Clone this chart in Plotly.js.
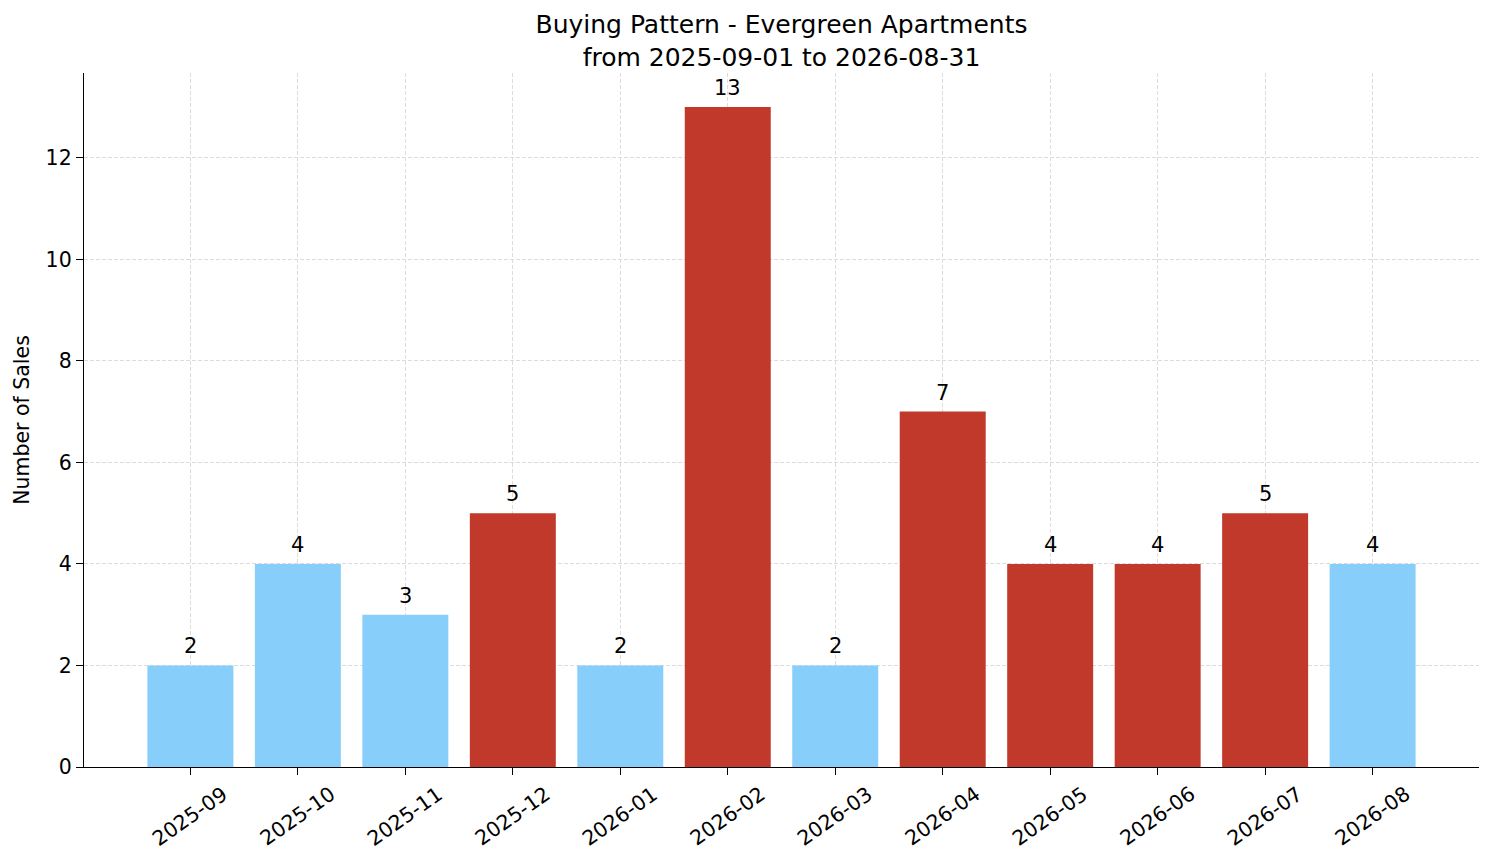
<!DOCTYPE html>
<html>
<head>
<meta charset="utf-8">
<script src="https://cdn.plot.ly/plotly-3.0.1.min.js"></script>
<style>
  html, body { margin: 0; padding: 0; background: #fff; }
  #plotarea { width: 1494px; height: 863px; }
</style>
</head>
<body>
<div id="plotarea"></div>
<script>
let months = ['2025-09', '2025-10', '2025-11', '2025-12', '2026-01', '2026-02',
              '2026-03', '2026-04', '2026-05', '2026-06', '2026-07', '2026-08'];
let sales = [2, 4, 3, 5, 2, 13, 2, 7, 4, 4, 5, 4];
// bars colored red when above the light-blue group
let highlight = [false, false, false, true, false, true, false, true, true, true, true, false];
let yTicks = [0, 2, 4, 6, 8, 10, 12];

let barColors = highlight.map(h => h ? '#c0392b' : '#87cefa');
let xs = months.map((m, i) => i);

let trace = {
    type: 'bar',
    x: xs,
    y: sales,
    width: 0.8,
    marker: {color: barColors, line: {width: 0}},
    hoverinfo: 'x+y'
};

// x tick labels as rotated annotations, centred on the ticks
let tickLabels = months.map((m, i) => ({
    x: i,
    xref: 'x',
    y: 0,
    yref: 'paper',
    text: m,
    textangle: -35,
    showarrow: false,
    xanchor: 'center',
    yanchor: 'top',
    yshift: -12,
    font: {size: 20.5, color: '#000'}
}));

// value labels above bars
let valueLabels = sales.map((v, i) => ({
    x: i,
    xref: 'x',
    y: v,
    yref: 'y',
    text: String(v),
    showarrow: false,
    xanchor: 'center',
    yanchor: 'bottom',
    yshift: 5,
    font: {size: 21, color: '#000'}
}));

let gridStyle = {
    showgrid: true,
    gridcolor: '#dcdcdc',
    griddash: '4px,2px',
    gridwidth: 0.8
};

let layout = {
    width: 1494,
    height: 863,
    margin: {l: 84, r: 15, t: 73, b: 96},
    paper_bgcolor: '#fff',
    plot_bgcolor: '#fff',
    font: {family: 'DejaVu Sans', size: 20.5, color: '#000'},
    title: {
        text: 'Buying Pattern - Evergreen Apartments<br>from 2025-09-01 to 2026-08-31',
        font: {size: 25},
        x: 0.5,
        xref: 'paper',
        xanchor: 'center',
        y: 1,
        yref: 'paper',
        yanchor: 'bottom',
        pad: {b: 40}
    },
    xaxis: Object.assign({
        range: [-0.99, 11.99],
        tickvals: xs,
        showticklabels: false,
        ticks: 'outside',
        ticklen: 7,
        tickwidth: 1.3,
        tickcolor: '#000',
        showline: true,
        linecolor: '#000',
        linewidth: 1.4,
        zeroline: false
    }, gridStyle),
    yaxis: Object.assign({
        range: [0, 13.67],
        tickvals: yTicks,
        ticks: 'outside',
        ticklen: 7,
        tickwidth: 1.3,
        tickcolor: '#000',
        showline: true,
        linecolor: '#000',
        linewidth: 1.4,
        zeroline: false,
        tickfont: {size: 20.5},
        title: {text: 'Number of Sales', font: {size: 20.5}, standoff: 10}
    }, gridStyle),
    annotations: tickLabels.concat(valueLabels),
    showlegend: false
};

Plotly.newPlot('plotarea', [trace], layout, {displaylogo: false, displayModeBar: false});
</script>
</body>
</html>
